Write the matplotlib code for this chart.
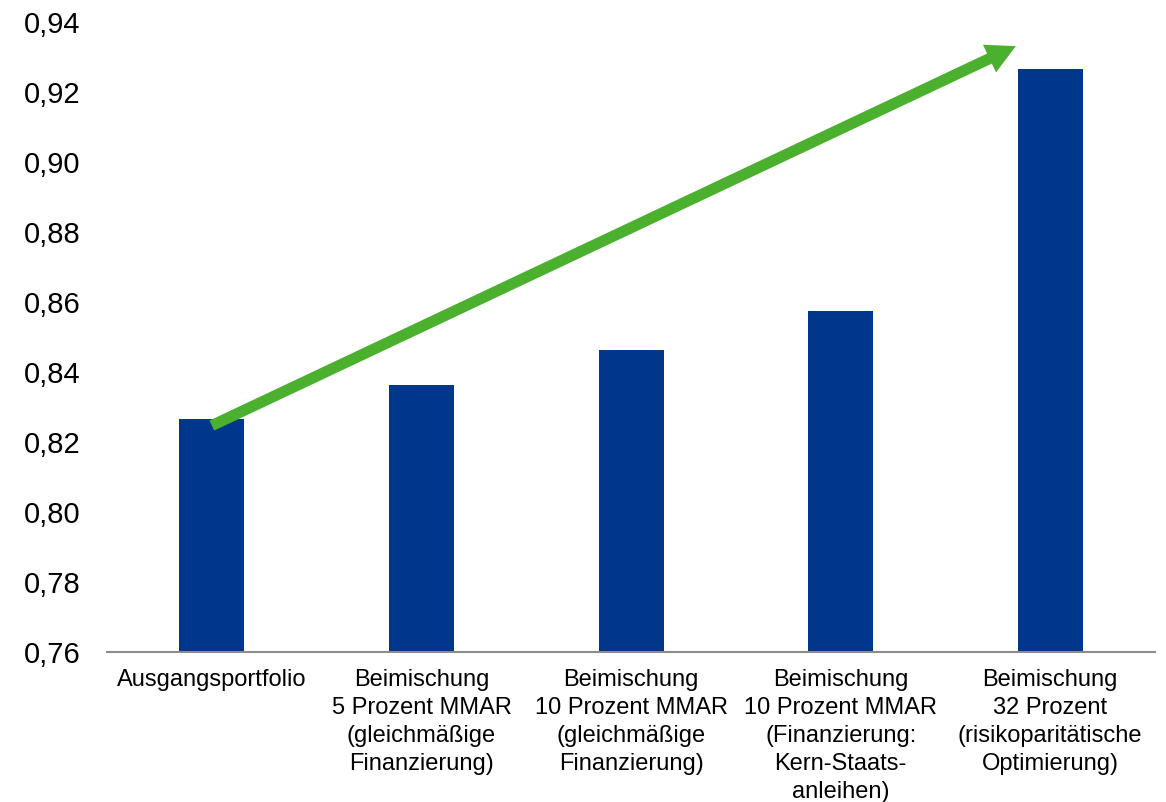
import matplotlib
matplotlib.use("Agg")
import matplotlib.pyplot as plt
from matplotlib.ticker import FuncFormatter

plt.rcParams['font.family'] = ['Liberation Sans', 'DejaVu Sans']

categories = [
    "Ausgangsportfolio",
    "Beimischung\n5 Prozent MMAR\n(gleichmäßige\nFinanzierung)",
    "Beimischung\n10 Prozent MMAR\n(gleichmäßige\nFinanzierung)",
    "Beimischung\n10 Prozent MMAR\n(Finanzierung:\nKern-Staats-\nanleihen)",
    "Beimischung\n32 Prozent\n(risikoparitätische\nOptimierung)",
]
values = [0.8265, 0.8363, 0.8464, 0.8573, 0.9267]
yticks = [0.76, 0.78, 0.80, 0.82, 0.84, 0.86, 0.88, 0.90, 0.92, 0.94]

bar_color = "#00368C"
arrow_color = "#4AB02E"

fig = plt.figure(figsize=(11.66, 8.02), dpi=100)
ax = fig.add_axes([0.0918, 0.187, 0.8988, 0.7856])

x = list(range(len(categories)))
ax.bar(x, values, width=0.31, color=bar_color, zorder=2)

ax.set_xlim(-0.5, len(categories) - 0.5)
ax.set_ylim(0.76, 0.94)
ax.set_yticks(yticks)
ax.yaxis.set_major_formatter(FuncFormatter(lambda v, p: f"{v:.2f}".replace(".", ",")))
ax.set_xticks(x)
ax.set_xticklabels(categories, fontsize=17, linespacing=1.36, ha="center", va="top")

for s in ["top", "right", "left"]:
    ax.spines[s].set_visible(False)
ax.spines["bottom"].set_color("#8C8C8C")
ax.spines["bottom"].set_linewidth(1.5)
ax.tick_params(axis="y", length=0, pad=19, labelsize=21)
ax.tick_params(axis="x", length=0, pad=12)

# trend arrow
ax.annotate("", xy=(3.836, 0.9331), xytext=(0.0, 0.8247),
            arrowprops=dict(arrowstyle="simple,head_length=2.1,head_width=2.2,tail_width=0.8",
                            mutation_scale=10, color=arrow_color, lw=0,
                            shrinkA=0, shrinkB=0),
            zorder=3, annotation_clip=False)

fig.savefig("out.png", dpi=100)
